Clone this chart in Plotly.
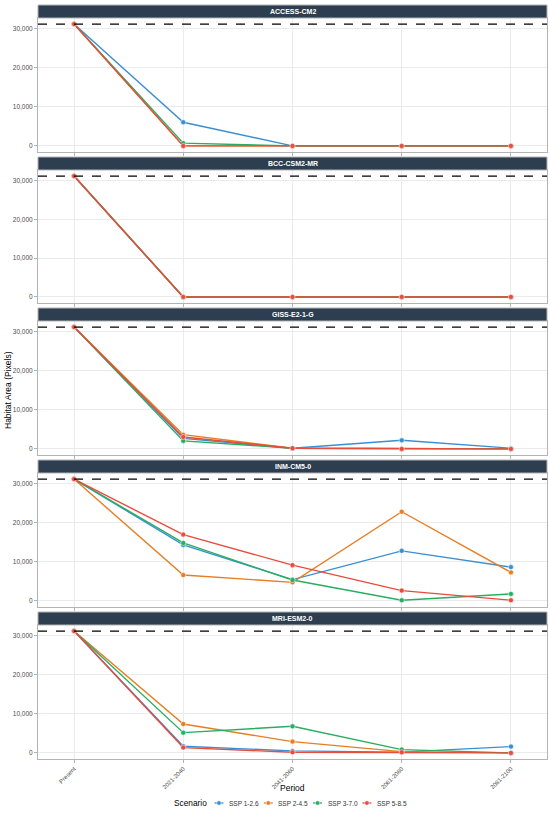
import plotly.graph_objects as go

periods = ["Present", "2021-2040", "2041-2060", "2061-2080", "2081-2100"]
models = ["ACCESS-CM2", "BCC-CSM2-MR", "GISS-E2-1-G", "INM-CM5-0", "MRI-ESM2-0"]
scenarios = ["SSP 1-2.6", "SSP 2-4.5", "SSP 3-7.0", "SSP 5-8.5"]
colors = ["#3A8FD3", "#E67E22", "#27AE60", "#E74C3C"]
present_area = 31150

# future values per model, per scenario (2021-2040, 2041-2060, 2061-2080, 2081-2100)
access_cm2 = [[6050, 0, 0, 0], [0, 0, 0, 0], [700, 0, 0, 0], [0, 0, 0, 0]]
bcc_csm2_mr = [[0, 0, 0, 0], [0, 0, 0, 0], [0, 0, 0, 0], [0, 0, 0, 0]]
giss_e2_1_g = [[2700, 170, 2200, 170], [3640, 170, 0, 0], [2050, 170, 0, 0], [3050, 170, 0, 0]]
inm_cm5_0 = [[14320, 5450, 12800, 8640], [6610, 4750, 22800, 7290], [14830, 5340, 170, 1780], [16950, 9150, 2630, 170]]
mri_esm2_0 = [[1700, 510, 200, 1610], [7390, 2890, 340, 0], [5180, 6800, 850, 0], [1360, 170, 170, 0]]
model_data = [access_cm2, bcc_csm2_mr, giss_e2_1_g, inm_cm5_0, mri_esm2_0]

W, H = 550, 825
x_left, x_right = 38, 547
panels = [(18, 152), (170, 303), (321, 455), (473, 607), (625, 759)]
strip_h = 13

def px_x(px):
    return px / W

def py(px):
    return 1 - px / H

fig = go.Figure()
font = "Liberation Sans, Arial, sans-serif"
ymin = -0.05 * present_area
ymax = present_area * 1.05

for i, (name, data) in enumerate(zip(models, model_data)):
    k = i + 1
    xa = "x" if k == 1 else f"x{k}"
    ya = "y" if k == 1 else f"y{k}"
    for j, (sc, col) in enumerate(zip(scenarios, colors)):
        fig.add_trace(go.Scatter(
            x=periods, y=[present_area] + data[j], mode="lines+markers",
            name=sc, showlegend=False,
            line=dict(color=col, width=1.4),
            marker=dict(color=col, size=5, line=dict(color="white", width=0.5)),
            xaxis=xa, yaxis=ya,
        ))
    top, bot = panels[i]
    xkey = "xaxis" if k == 1 else f"xaxis{k}"
    ykey = "yaxis" if k == 1 else f"yaxis{k}"
    fig.layout[xkey] = dict(
        domain=[x_left / W, x_right / W], anchor=ya, type="category",
        categoryorder="array", categoryarray=periods,
        range=[-0.33, 4.33], showgrid=True, gridcolor="#EBEBEB", gridwidth=1,
        showline=True, mirror=True, linecolor="#B3B3B3", linewidth=1,
        ticks="outside", ticklen=3, tickcolor="#B3B3B3",
        showticklabels=(k == 5), tickangle=-45,
        tickfont=dict(family=font, size=6, color="#4D4D4D"),
        zeroline=False,
        matches="x" if k != 1 else None,
    )
    fig.layout[ykey] = dict(
        domain=[py(bot), py(top)], anchor=xa, range=[ymin, ymax],
        tickvals=[0, 10000, 20000, 30000], tickformat=",",
        showgrid=True, gridcolor="#EBEBEB", gridwidth=1,
        showline=True, mirror=True, linecolor="#B3B3B3", linewidth=1,
        ticks="outside", ticklen=3, tickcolor="#B3B3B3",
        tickfont=dict(family=font, size=6.5, color="#4D4D4D"),
        zeroline=False,
    )
    # present-day reference line
    fig.add_shape(type="line", xref=f"{xa} domain", yref=ya,
                  x0=0, x1=1, y0=present_area, y1=present_area,
                  line=dict(color="black", width=1.3, dash="dash"))
    # facet strip
    fig.add_shape(type="rect", xref="paper", yref="paper",
                  x0=x_left / W, x1=x_right / W, y0=py(top), y1=py(top - strip_h),
                  fillcolor="#2C3E50", line=dict(color="#B3B3B3", width=1))
    fig.add_annotation(xref="paper", yref="paper", x=(x_left + x_right) / 2 / W,
                       y=py(top - strip_h / 2), text=f"<b>{name}</b>", showarrow=False,
                       font=dict(family=font, size=7, color="white"),
                       xanchor="center", yanchor="middle")

fig.add_annotation(xref="paper", yref="paper", x=8 / W, y=py(390),
                   text="Habitat Area (Pixels)", textangle=-90, showarrow=False,
                   font=dict(family=font, size=8.5, color="black"),
                   xanchor="center", yanchor="middle")
fig.add_annotation(xref="paper", yref="paper", x=(x_left + x_right) / 2 / W, y=py(788),
                   text="Period", showarrow=False,
                   font=dict(family=font, size=8.5, color="black"),
                   xanchor="center", yanchor="middle")

# compact legend (ggplot style)
leg_y = 803
fig.add_annotation(xref="paper", yref="paper", x=px_x(209), y=py(leg_y),
                   text="Scenario", showarrow=False, xanchor="right", yanchor="middle",
                   font=dict(family=font, size=8.3, color="black"))
for j, (sc, col) in enumerate(zip(scenarios, colors)):
    cx = 219 + 49.3 * j
    fig.add_shape(type="line", xref="paper", yref="paper",
                  x0=px_x(cx - 4.5), x1=px_x(cx + 4.5), y0=py(leg_y), y1=py(leg_y),
                  line=dict(color=col, width=1.3))
    fig.add_shape(type="circle", xref="paper", yref="paper",
                  x0=px_x(cx - 2.2), x1=px_x(cx + 2.2), y0=py(leg_y + 2.2), y1=py(leg_y - 2.2),
                  fillcolor=col, line=dict(color="white", width=0.5))
    fig.add_annotation(xref="paper", yref="paper", x=px_x(cx + 8), y=py(leg_y),
                       text=sc, showarrow=False, xanchor="left", yanchor="middle",
                       font=dict(family=font, size=6.5, color="#333333"))

fig.update_layout(
    width=W, height=H, margin=dict(l=0, r=0, t=0, b=0),
    paper_bgcolor="white", plot_bgcolor="white",
    font=dict(family=font), showlegend=False,
)

fig.write_html("out.html", config={"displayModeBar": False},
               post_script="document.body.style.margin='0';document.body.style.overflow='hidden';")
